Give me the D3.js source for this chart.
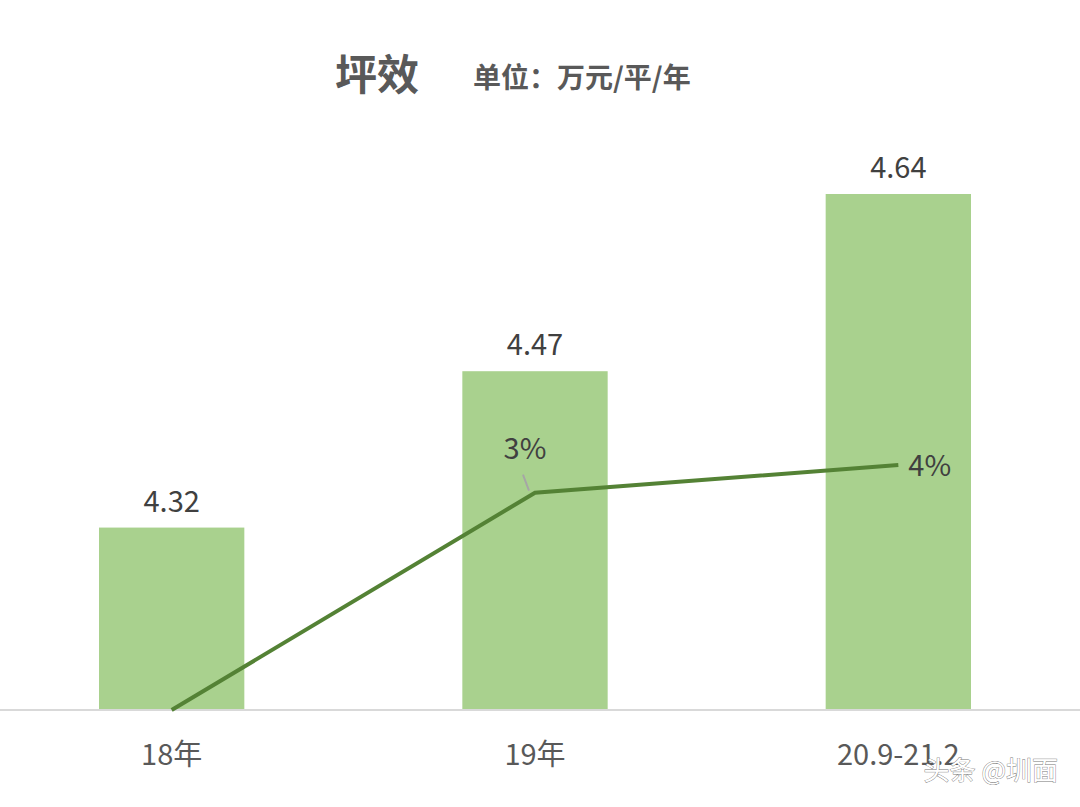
<!DOCTYPE html>
<html>
<head>
<meta charset="utf-8">
<script src="https://cdn.jsdelivr.net/npm/d3@7/dist/d3.min.js"></script>
<style>
  body{margin:0;background:#fff;font-family:"Noto Sans CJK SC","Noto Sans",sans-serif;}
</style>
</head>
<body>
<svg id="chart" width="1080" height="807"></svg>
<script>
var categories = ["18年", "19年", "20.9-21.2"];
var values = [4.32, 4.47, 4.64];
var growth = [0, 3.37, 3.8];
var growthLabels = ["", "3%", "4%"];

var svg = d3.select("#chart");
var x = d3.scaleBand().domain(categories).range([-10, 1080]).paddingInner(0.6).paddingOuter(0.3);
var y = d3.scaleLinear().domain([4.145, 4.64]).range([710, 194]);
var y2 = d3.scaleLinear().domain([0, 3.8]).range([710, 465]);
var cx = function(d){ return x(d) + x.bandwidth()/2; };

svg.selectAll("rect.bar").data(values).enter().append("rect")
  .attr("x", function(d,i){ return x(categories[i]); })
  .attr("y", function(d){ return y(d); })
  .attr("width", x.bandwidth())
  .attr("height", function(d){ return 710 - y(d); })
  .attr("fill", "#a9d18e");

svg.selectAll("text.val").data(values).enter().append("text")
  .attr("x", function(d,i){ return cx(categories[i]); })
  .attr("y", function(d){ return y(d) - 16; })
  .attr("text-anchor", "middle").attr("font-size", 29).attr("fill", "#404040")
  .text(function(d){ return d.toFixed(2); });

svg.append("line").attr("x1", 0).attr("x2", 1080).attr("y1", 710).attr("y2", 710)
  .attr("stroke", "#d9d9d9").attr("stroke-width", 2);

svg.append("path").datum(growth)
  .attr("d", d3.line().x(function(d,i){ return cx(categories[i]); }).y(function(d){ return y2(d); }))
  .attr("fill", "none").attr("stroke", "#548235").attr("stroke-width", 4);

// leader for 3%
svg.append("line").attr("x1", cx(categories[1]) - 12).attr("y1", y2(growth[1]) - 18)
  .attr("x2", cx(categories[1]) - 6).attr("y2", y2(growth[1]) - 2)
  .attr("stroke", "#a6a6a6").attr("stroke-width", 2);
svg.append("text").attr("x", cx(categories[1]) - 10).attr("y", y2(growth[1]) - 34)
  .attr("text-anchor", "middle").attr("font-size", 29).attr("fill", "#404040").text(growthLabels[1]);
svg.append("text").attr("x", cx(categories[2]) + 10).attr("y", y2(growth[2]) + 11)
  .attr("font-size", 29).attr("fill", "#404040").text(growthLabels[2]);

svg.selectAll("text.cat").data(categories).enter().append("text")
  .attr("x", function(d){ return cx(d); }).attr("y", 765)
  .attr("text-anchor", "middle").attr("font-size", 29).attr("fill", "#595959")
  .text(function(d){ return d; });

svg.append("text").attr("x", 335).attr("y", 90).attr("font-size", 42).attr("font-weight", "bold")
  .attr("fill", "#595959").text("坪效");
svg.append("text").attr("x", 473).attr("y", 88).attr("font-size", 28).attr("font-weight", "bold")
  .attr("fill", "#595959").text("单位：万元/平/年");

svg.append("text").attr("x", 1058).attr("y", 780).attr("text-anchor", "end").attr("font-size", 26)
  .attr("fill", "#fff").attr("stroke", "#777").attr("stroke-width", 0.8).attr("paint-order", "stroke")
  .text("头条 @圳面");
</script>
</body>
</html>
